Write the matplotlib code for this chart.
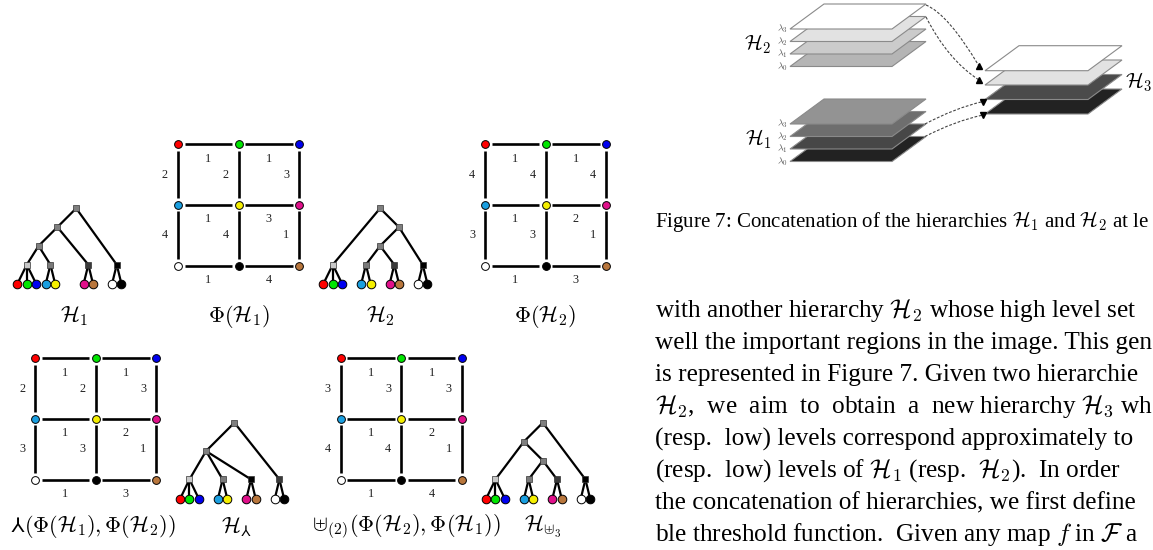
import matplotlib
matplotlib.use("Agg")
import matplotlib.pyplot as plt
import numpy as np
from matplotlib.path import Path
from matplotlib.patches import PathPatch, Polygon

plt.rcParams["font.family"] = ["Liberation Serif", "DejaVu Serif", "DejaVu Sans"]
plt.rcParams["mathtext.fontset"] = "cm"

# colours of the nine pixels
RED, GREEN, BLUE = "#ff0000", "#00e600", "#0000f0"
CYAN, YELLOW, MAGENTA = "#1a9fe0", "#f5ef00", "#e0108a"
WHITE, BLACK, BROWN = "#ffffff", "#000000", "#b8763c"
GRID_COLORS = [RED, GREEN, BLUE, CYAN, YELLOW, MAGENTA, WHITE, BLACK, BROWN]
LEAF_COLORS = [RED, GREEN, BLUE, CYAN, YELLOW, MAGENTA, BROWN, WHITE, BLACK]

# edge weights of the 3x3 graphs: horizontal edges per row, vertical edges per row gap
PHI_H1_HORIZ = [[1, 1], [1, 3], [1, 4]]
PHI_H1_VERT = [[2, 2, 3], [4, 4, 1]]
PHI_H2_HORIZ = [[1, 1], [1, 2], [1, 3]]
PHI_H2_VERT = [[4, 4, 4], [3, 3, 1]]
INF_HORIZ = [[1, 1], [1, 2], [1, 3]]
INF_VERT = [[2, 2, 3], [3, 3, 1]]
CONC_HORIZ = [[1, 1], [1, 2], [1, 4]]
CONC_VERT = [[3, 3, 3], [4, 4, 1]]

# hierarchies: leaf groups, leaf slots and merge order of the groups
LEAF_GROUPS = [[0, 1, 2], [3, 4], [5, 6], [7, 8]]
H1_SLOTS = [0, 1, 2, 3, 4, 7, 8, 10, 11]
H_SLOTS = [0, 1, 2, 4, 5, 7, 8, 10, 11]
H1_TREE = (((0, 1), 2), 3)
H2_TREE = (0, ((1, 2), 3))
HINF_TREE = ((0, 1, 2), 3)
HCONC_TREE = ((0, (1, 2)), 3)
H1_SHADES = ["#c8c8c8", "#7a7a7a", "#3a3a3a", "#000000"]
H2_SHADES = ["#c8c8c8", "#7a7a7a", "#3a3a3a", "#000000"]
HINF_SHADES = ["#c8c8c8", "#7a7a7a", "#000000", "#3a3a3a"]
HCONC_SHADES = ["#c8c8c8", "#7a7a7a", "#3a3a3a", "#000000"]

# stacked level sets (top plane first)
H2_LEVELS = ["#ffffff", "#e2e2e2", "#cbcbcb", "#b5b5b5"]
H1_LEVELS = ["#939393", "#6e6e6e", "#474747", "#222222"]
H3_LEVELS = ["#ffffff", "#e2e2e2", "#4b4b4b", "#222222"]
LAMBDAS = [r"$\lambda_3$", r"$\lambda_2$", r"$\lambda_1$", r"$\lambda_0$"]

CAPTION = r"Figure 7: Concatenation of the hierarchies $\mathcal{H}_1$ and $\mathcal{H}_2$ at le"
BODY = [
    r"with another hierarchy $\mathcal{H}_2$ whose high level set",
    "well the important regions in the image. This gen",
    "is represented in Figure 7. Given two hierarchie",
    r"$\mathcal{H}_2$,  we  aim  to  obtain  a  new hierarchy $\mathcal{H}_3$ wh",
    "(resp.  low) levels correspond approximately to",
    r"(resp.  low) levels of $\mathcal{H}_1$ (resp.  $\mathcal{H}_2$).  In order",
    "the concatenation of hierarchies, we first define",
    r"ble threshold function.  Given any map $f$ in $\mathcal{F}$ a",
]

STEP = 60.6
GAP = 6.5
LEAF_STEP = 9.47

fig = plt.figure(figsize=(11.53, 5.5), dpi=100)
ax = fig.add_axes([0, 0, 1, 1])
ax.set_xlim(0, 1153)
ax.set_ylim(550, 0)
ax.axis("off")


def draw_grid(x0, y0, horiz, vert):
    for r in range(3):
        for c in range(2):
            xa, y = x0 + c * STEP, y0 + r * STEP
            ax.plot([xa + GAP, xa + STEP - GAP], [y, y], color="black", lw=1.9,
                    solid_capstyle="butt", zorder=1)
            ax.text(xa + STEP / 2, y + 14.5, str(horiz[r][c]), ha="center",
                    va="center", fontsize=8.8, color="#222222")
    for r in range(2):
        for c in range(3):
            x, ya = x0 + c * STEP, y0 + r * STEP
            ax.plot([x, x], [ya + GAP, ya + STEP - GAP], color="black", lw=1.9,
                    solid_capstyle="butt", zorder=1)
            ax.text(x - 13, ya + STEP / 2, str(vert[r][c]), ha="center",
                    va="center", fontsize=8.8, color="#222222")
    for k, col in enumerate(GRID_COLORS):
        ax.plot(x0 + (k % 3) * STEP, y0 + (k // 3) * STEP, "o", ms=5.6,
                mfc=col, mec="black", mew=0.7, zorder=3)


def depth(t):
    return 1 if isinstance(t, int) else 1 + max(depth(c) for c in t)


def draw_tree(tree, x0, slots, shades, y_leaf, y_group, y_root):
    leaf_x = [x0 + s * LEAF_STEP for s in slots]
    group_x = [np.mean([leaf_x[i] for i in g]) for g in LEAF_GROUPS]
    dy = (y_group - y_root) / (depth(tree) - 1)

    def place(t):
        if isinstance(t, int):
            return group_x[t], y_group, 1
        kids = [place(c) for c in t]
        lv = 1 + max(k[2] for k in kids)
        deep = [k for k in kids if k[2] == lv - 1]
        if len(deep) == 1 and len(kids) > 1:
            others = np.mean([k[0] for k in kids if k is not deep[0]])
            x = deep[0][0] + np.sign(others - deep[0][0]) * dy
        else:
            # several children on one level: sit over the first pair
            x = np.mean([k[0] for k in kids[:2]])
        y = y_group - (lv - 1) * dy
        for k in kids:
            ax.plot([x, k[0]], [y, k[1]], color="black", lw=1.6, zorder=1)
        ax.plot(x, y, "s", ms=4.4, mfc="#7f7f7f", mec="#333333", mew=0.5, zorder=3)
        return x, y, lv

    place(tree)
    for g, gx, shade in zip(LEAF_GROUPS, group_x, shades):
        for i in g:
            ax.plot([gx, leaf_x[i]], [y_group, y_leaf], color="black", lw=1.6, zorder=1)
        ax.plot(gx, y_group, "s", ms=4.4, mfc=shade, mec="#333333", mew=0.5, zorder=3)
    for lx, col in zip(leaf_x, LEAF_COLORS):
        ax.plot(lx, y_leaf, "o", ms=6.2, mfc=col, mec="black", mew=0.7, zorder=3)


def draw_stack(x0, fronts, colors, width=102, dx=34, dy=-25, labels=None):
    for y, col in list(zip(fronts, colors))[::-1]:
        ax.add_patch(Polygon([(x0, y), (x0 + width, y), (x0 + width + dx, y + dy),
                              (x0 + dx, y + dy)], closed=True, fc=col,
                             ec="#8a8a8a", lw=0.8))
    if labels:
        for y, lab in zip(fronts, labels):
            ax.text(x0 - 2, y, lab, ha="right", va="center", fontsize=7,
                    color="#555555")


def dashed(p0, ctrl, p1, head):
    path = Path([p0, ctrl, p1], [Path.MOVETO, Path.CURVE3, Path.CURVE3])
    ax.add_patch(PathPatch(path, fc="none", ec="#444444", lw=0.8, ls=(0, (2.5, 1.5))))
    ax.plot(*p1, head, ms=5, color="black", zorder=4)


# graphs and hierarchies
draw_grid(178, 144.3, PHI_H1_HORIZ, PHI_H1_VERT)
draw_grid(485, 144.3, PHI_H2_HORIZ, PHI_H2_VERT)
draw_grid(35, 358.3, INF_HORIZ, INF_VERT)
draw_grid(340.7, 358.3, CONC_HORIZ, CONC_VERT)
draw_tree(H1_TREE, 17.3, H1_SLOTS, H1_SHADES, 284, 264.7, 208.3)
draw_tree(H2_TREE, 323.3, H_SLOTS, H2_SHADES, 284, 264.7, 208.3)
draw_tree(HINF_TREE, 180, H_SLOTS, HINF_SHADES, 499, 479.4, 422.7)
draw_tree(HCONC_TREE, 486, H_SLOTS, HCONC_SHADES, 499, 479.4, 422.7)

LABEL_FS = 16
ax.text(74, 316, r"$\mathcal{H}_1$", ha="center", va="center", fontsize=LABEL_FS)
ax.text(239, 316, r"$\Phi(\mathcal{H}_1)$", ha="center", va="center", fontsize=LABEL_FS)
ax.text(380, 316, r"$\mathcal{H}_2$", ha="center", va="center", fontsize=LABEL_FS)
ax.text(545, 316, r"$\Phi(\mathcal{H}_2)$", ha="center", va="center", fontsize=LABEL_FS)
ax.text(93, 527, r"$⅄(\Phi(\mathcal{H}_1),\Phi(\mathcal{H}_2))$", ha="center",
        va="center", fontsize=LABEL_FS)
ax.text(237, 527, r"$\mathcal{H}_{⅄}$", ha="center", va="center", fontsize=LABEL_FS)
ax.text(406, 527, r"$\uplus_{(2)}(\Phi(\mathcal{H}_2),\Phi(\mathcal{H}_1))$",
        ha="center", va="center", fontsize=LABEL_FS)
ax.text(543, 527, r"$\mathcal{H}_{\uplus_3}$", ha="center", va="center", fontsize=LABEL_FS)

# concatenation sketch
draw_stack(790, [29, 41.5, 54, 66.5], H2_LEVELS, labels=LAMBDAS)
draw_stack(790, [124, 136.5, 149, 161.5], H1_LEVELS, labels=LAMBDAS)
draw_stack(985, [70.7, 85, 99.5, 114], H3_LEVELS, width=103)
ax.text(758, 44, r"$\mathcal{H}_2$", ha="center", va="center", fontsize=15)
ax.text(758, 139, r"$\mathcal{H}_1$", ha="center", va="center", fontsize=15)
ax.text(1139, 82, r"$\mathcal{H}_3$", ha="center", va="center", fontsize=15)
dashed((926, 5), (948, 14), (979, 66), "^")
dashed((926, 17), (948, 60), (979, 80), "^")
dashed((925, 124), (955, 108), (983, 101.5), "v")
dashed((925, 136.5), (955, 121), (983, 115), "v")

# caption and running text
ax.text(655, 221, CAPTION, ha="left", va="center", fontsize=15)
for i, line in enumerate(BODY):
    ax.text(655, 311 + 32 * i, line, ha="left", va="center", fontsize=18.2)

fig.savefig("out.png", dpi=100)
